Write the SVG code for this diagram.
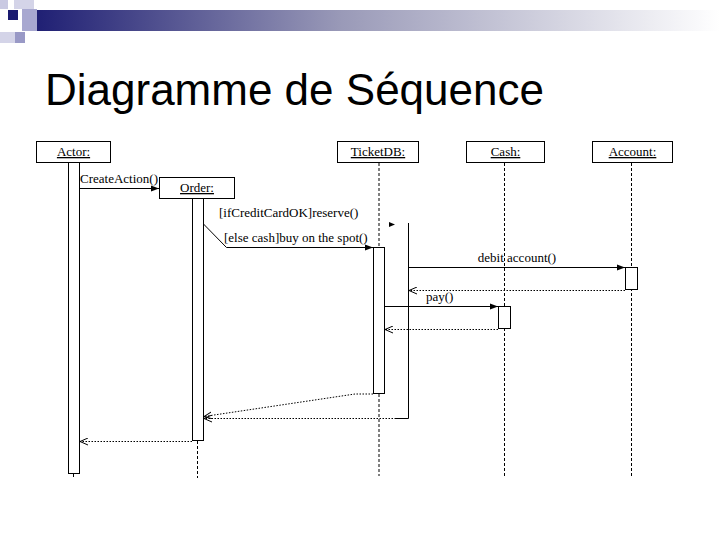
<svg xmlns="http://www.w3.org/2000/svg" width="720" height="540" viewBox="0 0 720 540">
<defs>
<linearGradient id="bar" x1="0" y1="0" x2="1" y2="0">
<stop offset="0" stop-color="#1e1e73"/>
<stop offset="0.45" stop-color="#9a9ab8"/>
<stop offset="1" stop-color="#ffffff"/>
</linearGradient>
<marker id="fill" viewBox="0 0 8 8" refX="8" refY="4" markerWidth="8" markerHeight="8" markerUnits="userSpaceOnUse" orient="auto">
<path d="M0,1 L8,4 L0,7 Z" fill="#000"/>
</marker>
<marker id="open" viewBox="0 0 8 8" refX="8" refY="4" markerWidth="8" markerHeight="8" markerUnits="userSpaceOnUse" orient="auto">
<path d="M0,0.5 L8,4 L0,7.5" fill="none" stroke="#000" stroke-width="1"/>
</marker>
<style>
.box{fill:#fff;stroke:#000;stroke-width:1}
.act{fill:#fff;stroke:#000;stroke-width:1}
.life{stroke:#000;stroke-width:1;stroke-dasharray:3,2;fill:none}
.msg{stroke:#000;stroke-width:1;fill:none}
.ret{stroke:#000;stroke-width:1;stroke-dasharray:1.5,1.5;fill:none}
.lbl{font-family:"Liberation Serif","Times New Roman",serif;font-size:13px;fill:#000}
.name{font-family:"Liberation Serif","Times New Roman",serif;font-size:13px;fill:#000;text-anchor:middle;text-decoration:underline}
.title{font-family:"Liberation Sans",Arial,sans-serif;font-size:44px;fill:#000}
</style>
</defs>
<rect width="720" height="540" fill="#fff"/>
<!-- header decoration -->
<g id="header">
<rect x="33" y="10" width="687" height="21" fill="url(#bar)"/>
<rect x="0" y="0" width="8" height="9" fill="#c9c9e2"/>
<rect x="14" y="0" width="20" height="9" fill="#d4d4e8"/>
<rect x="8" y="10" width="10" height="10" fill="#1a1a70"/>
<rect x="22" y="9" width="15" height="22" fill="#a8a8d0"/>
<rect x="0" y="32" width="15" height="11" fill="#d4d4e8"/>
<rect x="15" y="32" width="10" height="11" fill="#9999c6"/>
</g>
<text class="title" x="45" y="105">Diagramme de Séquence</text>
<!-- lifelines -->
<g id="lifelines">
<line class="life" x1="73.5" y1="474" x2="73.5" y2="479"/>
<line class="life" x1="197.5" y1="441" x2="197.5" y2="478"/>
<line class="life" x1="379" y1="163" x2="379" y2="247"/>
<line class="life" x1="379" y1="394" x2="379" y2="476"/>
<line class="life" x1="504.5" y1="163" x2="504.5" y2="476"/>
<line class="life" x1="631.5" y1="163" x2="631.5" y2="476"/>
</g>
<g id="actor">
<rect class="box" x="36.5" y="141.5" width="74" height="21"/>
<text class="name" x="73.5" y="156">Actor:</text>
<rect class="act" x="68.5" y="162.5" width="11" height="311"/>
</g>
<g id="order">
<rect class="box" x="159.5" y="177.5" width="75" height="21"/>
<text class="name" x="197" y="192">Order:</text>
<rect class="act" x="192.5" y="198.5" width="11" height="242"/>
</g>
<g id="ticketdb">
<rect class="box" x="337.5" y="141.5" width="81" height="21"/>
<text class="name" x="378" y="156">TicketDB:</text>
<rect class="act" x="373.5" y="247.5" width="11" height="146"/>
</g>
<g id="cash">
<rect class="box" x="466.5" y="141.5" width="78" height="21"/>
<text class="name" x="505.5" y="156">Cash:</text>
<rect class="act" x="498.5" y="306.5" width="12" height="22"/>
</g>
<g id="account">
<rect class="box" x="592.5" y="141.5" width="80" height="21"/>
<text class="name" x="632.5" y="156">Account:</text>
<rect class="act" x="625.5" y="267.5" width="12" height="22"/>
</g>
<g id="connectors">
<line class="msg" x1="79.5" y1="188.5" x2="159" y2="188.5" marker-end="url(#fill)"/>
<path d="M389,222 L395,224.5 L389,227 Z" fill="#000"/>
<polyline class="msg" points="203.5,224 226.5,247.5 373,247.5" marker-end="url(#fill)"/>
<polyline class="msg" points="408.5,223 408.5,418.5 396,418.5"/>
<line class="ret" x1="396" y1="418.5" x2="204" y2="418.5" marker-end="url(#open)"/>
<line class="msg" x1="408.5" y1="267.5" x2="625" y2="267.5" marker-end="url(#fill)"/>
<line class="ret" x1="625" y1="290.5" x2="409" y2="290.5" marker-end="url(#open)"/>
<line class="msg" x1="384.5" y1="306.5" x2="498" y2="306.5" marker-end="url(#fill)"/>
<line class="ret" x1="498" y1="329.5" x2="385" y2="329.5" marker-end="url(#open)"/>
<polyline class="ret" points="373,394 355,394 204,416.5" marker-end="url(#open)"/>
<line class="ret" x1="192" y1="441.5" x2="80" y2="441.5" marker-end="url(#open)"/>
</g>
<g id="labels">
<text class="lbl" x="80" y="183">CreateAction()</text>
<text class="lbl" x="219" y="217">[ifCreditCardOK]reserve()</text>
<text class="lbl" x="224" y="242">[else cash]buy on the spot()</text>
<text class="lbl" x="517" y="262" text-anchor="middle">debit account()</text>
<text class="lbl" x="426" y="301">pay()</text>
</g>
</svg>
